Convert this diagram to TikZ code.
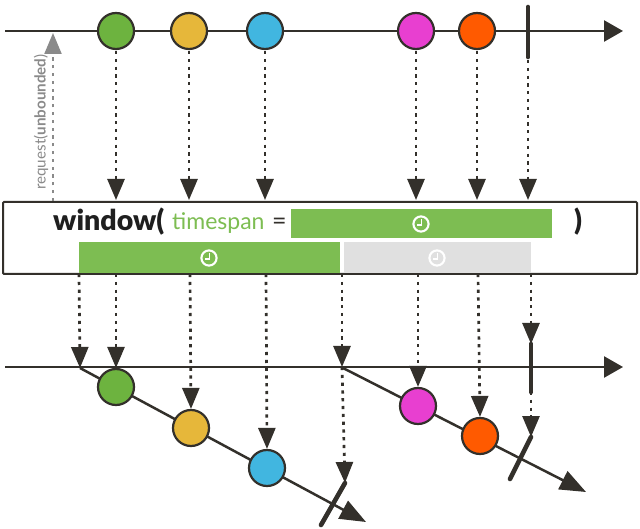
\documentclass[tikz,border=0pt]{standalone}
\usepackage{fontspec}
\setmainfont{Lato}
\newfontfamily\blackfont{Lato Black}
\usetikzlibrary{arrows.meta}
\definecolor{ink}{HTML}{33302B}
\definecolor{bargreen}{HTML}{7DBD52}
\definecolor{bargray}{HTML}{E0E0E0}
\definecolor{reqgray}{HTML}{8A8A8A}
\tikzset{
  axisline/.style={draw=ink,line width=2.5pt,-{Triangle[length=19pt,width=21pt]}},
  fallline/.style={draw=ink,line width=2.5pt,-{Triangle[length=26pt,width=20pt]}},
  dropline/.style={draw=ink,line width=2.7pt,dash pattern=on 3.2pt off 4.6pt,-{Triangle[length=21pt,width=17pt]}},
  reqline/.style={draw=reqgray,line width=2.2pt,dash pattern=on 3.2pt off 4.6pt,-{Triangle[length=21pt,width=17pt]}},
  marble/.style={circle,draw=ink,line width=2.2pt,minimum size=36pt,inner sep=0pt},
  endbar/.style={draw=ink,line width=4.6pt,line cap=round},
  timebar/.style={inner sep=0pt,anchor=north west},
}
\newcommand{\clockicon}[3]{%
  \draw[white,line width=2.1pt] (#1,#2) circle[radius=7.6pt];
  \draw[white,line width=1.5pt] (#1+0.4,#2-4.5) -- (#1+0.4,#2+0.8) -- (#1-3.6,#2+0.8);
}
\begin{document}
\begin{tikzpicture}[x=1pt,y=-1pt]
\useasboundingbox[fill=white] (0,0) rectangle (640,529);
% upstream axis
\coordinate (a1s) at (5,31);
\coordinate (a1e) at (623,31);
\draw[axisline] (a1s) -- (a1e);
\node[marble,fill={rgb,255:red,109;green,179;blue,63}] (t1) at (116,31) {};
\node[marble,fill={rgb,255:red,230;green,183;blue,58}] (t2) at (189,31) {};
\node[marble,fill={rgb,255:red,65;green,182;blue,224}] (t3) at (265,31) {};
\node[marble,fill={rgb,255:red,232;green,63;blue,208}] (t4) at (416,31) {};
\node[marble,fill={rgb,255:red,255;green,90;blue,0}] (t5) at (477,31) {};
\coordinate (tbA) at (528,7);
\coordinate (tbB) at (528,57);
\draw[endbar] (tbA) -- (tbB);
% operator box
\node[draw=ink,line width=2pt,fill=white,rounded corners=1pt,minimum width=634pt,minimum height=72pt,inner sep=0pt,anchor=north west] (box) at (2,201) {};
\node[timebar,fill=bargreen,minimum width=261pt,minimum height=29pt] (span) at (291,209) {};
\node[timebar,fill=bargreen,minimum width=261pt,minimum height=30.5pt] (win1) at (79,242) {};
\node[timebar,fill=bargray,minimum width=187pt,minimum height=30.5pt] (win2) at (344,242) {};
\clockicon{421}{224}{}
\clockicon{209}{258}{}
\clockicon{437}{258}{}
\node[anchor=base west,inner sep=0pt,font=\blackfont\fontsize{28.5}{28}\selectfont,text=black!88] (op) at (53,231) {window(};
\node[anchor=base west,inner sep=0pt,font=\fontsize{23}{23}\selectfont,text=bargreen] (par) at (172,230) {timespan};
\node[anchor=base west,inner sep=0pt,font=\fontsize{25}{25}\selectfont,text=ink] (eq) at (272,230) {=};
\node[anchor=base west,inner sep=0pt,font=\blackfont\fontsize{28.5}{28}\selectfont,text=black!88] (cl) at (574,231) {)};
% request
\coordinate (rq) at (53,33);
\coordinate (rqb) at (53,201);
\draw[reqline] (rqb) -- (rq);
\node[rotate=90,anchor=west,inner sep=0pt,font=\fontsize{15.2}{16}\selectfont,text=reqgray] (rqt) at (41,190) {request(\textbf{unbounded})};
% drops into the box
\coordinate (i1) at (116,200);
\coordinate (i2) at (189,200);
\coordinate (i3) at (265,200);
\coordinate (i4) at (416,200);
\coordinate (i5) at (477,200);
\coordinate (i6) at (528,200);
\draw[dropline] (t1) ++(0,20) -- (i1);
\draw[dropline] (t2) ++(0,20) -- (i2);
\draw[dropline] (t3) ++(0,20) -- (i3);
\draw[dropline] (t4) ++(0,20) -- (i4);
\draw[dropline] (t5) ++(0,20) -- (i5);
\draw[dropline] (tbB) ++(0,3) -- (i6);
% output axis and windows
\coordinate (a2s) at (5,367);
\coordinate (a2e) at (623,367);
\draw[axisline] (a2s) -- (a2e);
\coordinate (w1s) at (80,368);
\coordinate (w1e) at (366,522);
\coordinate (w2s) at (343,368);
\coordinate (w2e) at (586,492);
\draw[fallline] (w1s) -- (w1e);
\draw[fallline] (w2s) -- (w2e);
\node[marble,fill={rgb,255:red,109;green,179;blue,63}] (b1) at (116,387) {};
\node[marble,fill={rgb,255:red,230;green,183;blue,58}] (b2) at (191,428) {};
\node[marble,fill={rgb,255:red,65;green,182;blue,224}] (b3) at (267,468) {};
\node[marble,fill={rgb,255:red,232;green,63;blue,208}] (b4) at (418,406) {};
\node[marble,fill={rgb,255:red,255;green,90;blue,0}] (b5) at (480,436) {};
\coordinate (mbA) at (531,344);
\coordinate (mbB) at (531,392);
\draw[endbar] (mbA) -- (mbB);
\coordinate (e1A) at (345,483);
\coordinate (e1B) at (321,525);
\draw[endbar] (e1A) -- (e1B);
\coordinate (e2A) at (531,437);
\coordinate (e2B) at (510,479);
\draw[endbar] (e2A) -- (e2B);
% drops out of the box
\coordinate (o0) at (79,274);
\coordinate (o1) at (116,274);
\coordinate (o2) at (190,274);
\coordinate (o3) at (266,274);
\coordinate (o4) at (342,274);
\coordinate (o5) at (418,274);
\coordinate (o6) at (478,274);
\coordinate (o7) at (531,274);
\coordinate (p4) at (342,367);
\draw[dropline] (o0) -- (w1s);
\draw[dropline] (o1) -- (b1.north);
\draw[dropline] (o2) -- (b2.north);
\draw[dropline] (o3) -- (b3.north);
\draw[dropline] (o4) -- (p4);
\draw[dropline] (o5) -- (b4.north);
\draw[dropline] (o6) -- (b5.north);
\draw[dropline] (o7) -- (mbA);
\draw[dropline] (p4) -- (e1A);
\draw[dropline] (mbB) -- (e2A);
\end{tikzpicture}
\end{document}
